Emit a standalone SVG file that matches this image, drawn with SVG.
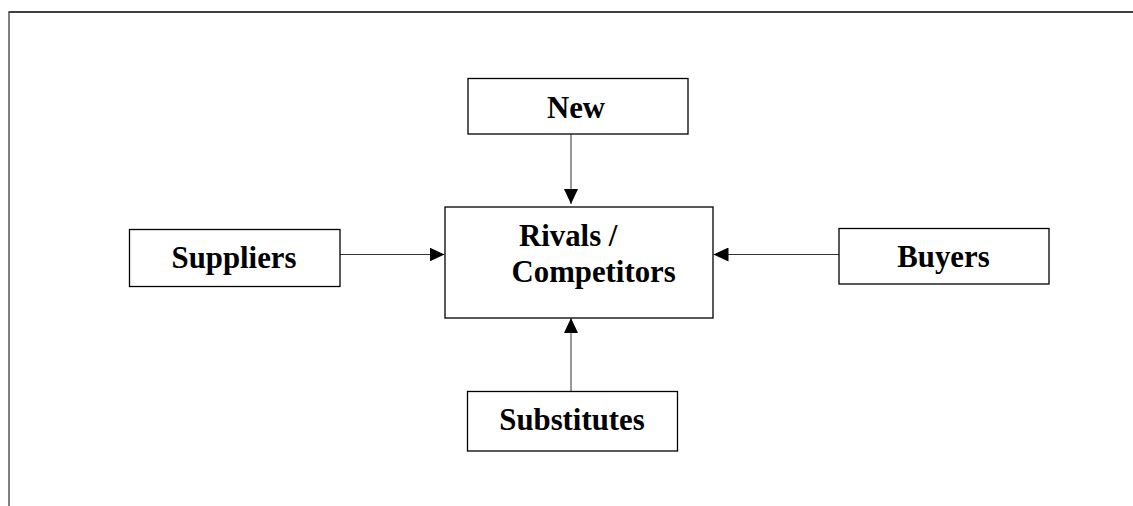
<svg xmlns="http://www.w3.org/2000/svg" width="1133" height="506" viewBox="0 0 1133 506">
<style>
.box{fill:#fff;stroke:#000;stroke-width:1.3}
.lbl{font-family:"Liberation Serif","Times New Roman",serif;font-weight:bold;font-size:30.8px;fill:#000}
.conn{stroke:#333;stroke-width:1;fill:none}
</style>
<defs>
<marker id="ah" markerWidth="15" markerHeight="14" refX="15" refY="7" orient="auto" markerUnits="userSpaceOnUse">
<path d="M0,0 L15,7 L0,14 Z" fill="#000"/>
</marker>
</defs>
<rect width="1133" height="506" fill="#fff"/>
<g id="frame">
<line x1="8.5" y1="12" x2="1133" y2="12" stroke="#000" stroke-width="1.3"/>
<line x1="9" y1="12" x2="9" y2="506" stroke="#555" stroke-width="1.5"/>
</g>
<g id="connectors">
<line class="conn" x1="571" y1="134" x2="571" y2="204" marker-end="url(#ah)"/>
<line class="conn" x1="340" y1="254.5" x2="444.5" y2="254.5" marker-end="url(#ah)"/>
<line class="conn" x1="839" y1="254.5" x2="713.5" y2="254.5" marker-end="url(#ah)"/>
<line class="conn" x1="571" y1="391.5" x2="571" y2="318" marker-end="url(#ah)"/>
</g>
<g id="node-new">
<rect class="box" x="468" y="78.5" width="220" height="55.5"/>
<text class="lbl" x="576" y="117.5" text-anchor="middle">New</text>
</g>
<g id="node-rivals">
<rect class="box" x="445" y="207" width="268" height="111"/>
<text class="lbl" x="519" y="245.5">Rivals /</text>
<text class="lbl" x="511.5" y="282">Competitors</text>
</g>
<g id="node-suppliers">
<rect class="box" x="129.5" y="229.5" width="210.5" height="57"/>
<text class="lbl" x="234" y="268" text-anchor="middle">Suppliers</text>
</g>
<g id="node-buyers">
<rect class="box" x="839" y="228.5" width="210" height="55.5"/>
<text class="lbl" x="943.5" y="266.5" text-anchor="middle">Buyers</text>
</g>
<g id="node-substitutes">
<rect class="box" x="467.5" y="391.5" width="210" height="59.5"/>
<text class="lbl" x="572" y="430" text-anchor="middle">Substitutes</text>
</g>
</svg>
